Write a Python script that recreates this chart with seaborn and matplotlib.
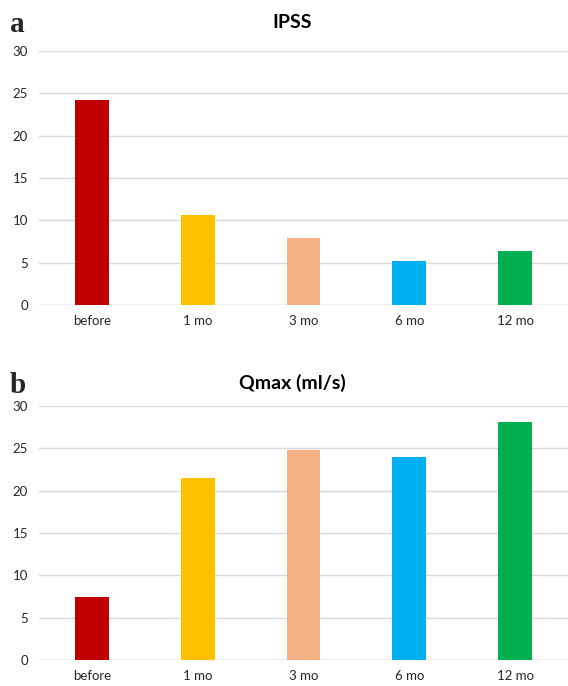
import matplotlib
matplotlib.use("Agg")
import matplotlib.pyplot as plt
import seaborn as sns
import pandas as pd

categories = ["before", "1 mo", "3 mo", "6 mo", "12 mo"]
ipss = [24.2, 10.6, 7.9, 5.2, 6.4]
qmax = [7.5, 21.5, 24.8, 24.0, 28.1]
colors = ["#C00000", "#FFC000", "#F4B183", "#00B0F0", "#00B050"]

sns.set_theme(style="white")
plt.rcParams["font.family"] = ["Lato", "DejaVu Sans"]

fig = plt.figure(figsize=(5.68, 6.86), dpi=100)
W, H = 568, 686


def panel(bottom_px, values, title, letter, title_y, letter_y):
    ax = fig.add_axes([39 / W, (H - bottom_px) / H, 529 / W, 254 / H])
    df = pd.DataFrame({"cat": categories, "val": values})
    sns.barplot(data=df, x="cat", y="val", hue="cat", palette=colors,
                legend=False, width=0.32, saturation=1, linewidth=0,
                ax=ax, zorder=3)
    ax.set_ylim(0, 30)
    ax.set_xlim(-0.5, 4.5)
    ax.set_yticks(range(0, 31, 5))
    ax.yaxis.grid(True, color="#d9d9d9", linewidth=1, zorder=0)
    for s in ax.spines.values():
        s.set_visible(False)
    ax.axhline(0, color="#d9d9d9", linewidth=1, zorder=1)
    ax.tick_params(axis="both", length=0, labelsize=9.5, colors="#262626")
    ax.tick_params(axis="y", pad=8)
    ax.tick_params(axis="x", pad=7)
    ax.set_xlabel("")
    ax.set_ylabel("")
    fig.text(292 / W, 1 - title_y / H, title, ha="center", va="center",
             fontsize=14, fontweight="bold", color="#000000")
    fig.text(10 / W, 1 - letter_y / H, letter, ha="left", va="baseline",
             fontsize=21, fontweight="bold", family="Liberation Serif")
    return ax


panel(305, ipss, "IPSS", "a", 22, 32)
panel(660, qmax, "Qmax (ml/s)", "b", 383, 393)

fig.savefig("out.png", dpi=100)
